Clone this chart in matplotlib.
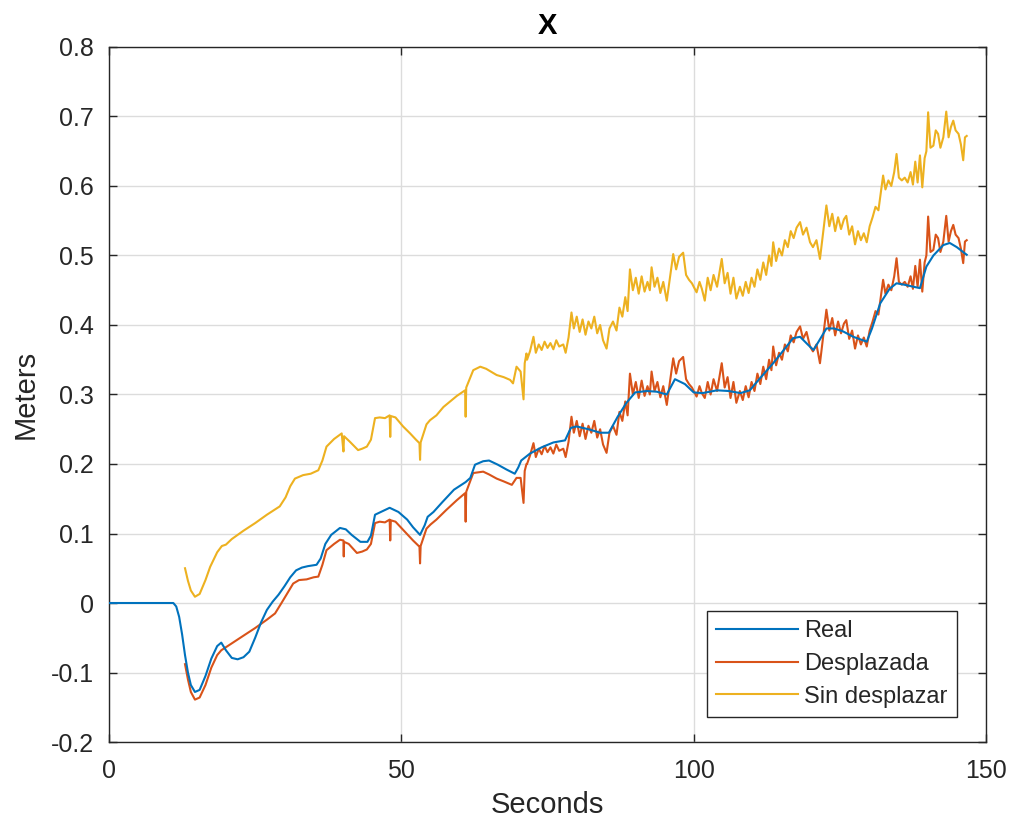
import matplotlib
matplotlib.use("Agg")
import matplotlib.pyplot as plt

plt.rcParams['font.family'] = ['Liberation Sans', 'DejaVu Sans']

# ---- Real trajectory (smooth) ----
real_t = [0, 11, 11.5, 12, 12.5, 13, 13.5, 14, 14.7, 15.5, 16.5, 17.5, 18.5, 19.2, 20, 21,
          22, 23, 24, 25, 26, 27, 28, 29, 30, 31, 32, 33, 34, 35.5, 36.2, 37, 38, 39.5,
          40.5, 41.5, 43, 44.2, 44.8, 45.5, 46.5, 48, 49.5, 51, 52, 53.2, 54, 54.5, 55.5,
          57, 59, 61, 61.8, 62.6, 64, 65, 66.5, 68, 69.4, 70, 70.5, 72, 74, 76, 78, 79,
          80, 82, 84, 85.5, 87, 88.5, 90, 92, 93.7, 95.4, 96.8, 98.5, 100, 101.5, 104,
          106, 108, 109.6, 111, 113.6, 115.5, 117, 118.2, 119.5, 120.5, 121.5, 122.7, 124,
          125.5, 127.3, 129.6, 130.5, 131.9, 133.5, 134.7, 136, 137.6, 138.7, 139.8, 141,
          142.7, 143.8, 145, 146.7]
real_x = [0, 0, -0.005, -0.02, -0.045, -0.075, -0.10, -0.118, -0.128, -0.125, -0.105, -0.08,
          -0.062, -0.057, -0.068, -0.079, -0.081, -0.078, -0.07, -0.05, -0.028, -0.01, 0.002,
          0.012, 0.024, 0.037, 0.047, 0.051, 0.053, 0.055, 0.064, 0.085, 0.098, 0.108, 0.106,
          0.098, 0.088, 0.088, 0.097, 0.127, 0.131, 0.137, 0.131, 0.12, 0.109, 0.098, 0.112,
          0.124, 0.131, 0.145, 0.163, 0.174, 0.18, 0.199, 0.204, 0.205, 0.199, 0.192, 0.186,
          0.195, 0.205, 0.215, 0.224, 0.231, 0.234, 0.252, 0.254, 0.25, 0.245, 0.245, 0.268,
          0.288, 0.303, 0.305, 0.304, 0.3, 0.322, 0.315, 0.303, 0.302, 0.306, 0.305, 0.302,
          0.306, 0.32, 0.345, 0.365, 0.381, 0.383, 0.372, 0.364, 0.378, 0.395, 0.395, 0.391,
          0.383, 0.376, 0.395, 0.431, 0.452, 0.46, 0.458, 0.455, 0.453, 0.484, 0.5, 0.515,
          0.518, 0.512, 0.501]

# ---- Shifted estimate (Desplazada) ----
desp_t = [13, 13.5, 14, 14.7, 15.5, 16.5, 17.5, 18.5, 19.2, 21, 23, 25, 27, 28.4, 29.5,
          30.5, 31.5, 32.5, 33.8, 35, 35.8, 36.5, 37.2, 38.5, 39.5, 40.1, 40.15, 40.2, 41,
          42.4, 43.3, 44.1, 44.8, 45.5, 46.3, 47.2, 48, 48.1, 48.2, 49, 50, 50.9, 52, 53.1,
          53.2, 53.3, 54.3, 55, 56, 57.7, 59.5, 60.9, 61.0, 61.1, 62.3, 63.1, 64, 65, 66.3,
          67.5, 68.9, 69.7, 70.4, 70.9, 71.1, 71.4,
          71.5, 72.0, 72.6, 73.0, 73.5, 74.0, 74.5, 75.0, 75.5, 76.0, 76.5, 77.0, 77.7, 78.1,
          78.6, 79.1, 79.5, 80.0, 80.5, 81.0, 81.5, 82.0, 82.5, 83.0, 83.5, 84.0, 84.5, 85.1,
          85.6, 86.2, 86.8, 87.3, 87.8, 88.3, 88.7, 89.1, 89.6, 90.1, 90.6, 91.1, 91.6, 92.1,
          92.5, 92.8, 93.3, 93.8, 94.3, 94.8, 95.4, 95.9, 96.5, 97.0, 97.5, 98.2, 98.7, 99.2,
          99.7, 100.5, 101.0, 101.4, 101.9, 102.4, 102.9, 103.4, 104.0, 104.5, 104.8, 105.3,
          105.8, 106.3, 106.8, 107.3, 107.9, 108.4, 108.9, 109.4, 109.9, 110.4, 110.9, 111.4,
          111.9, 112.4, 112.9, 113.3, 113.6, 114.1, 114.6, 115.1, 115.6, 116.1, 116.6, 117.1,
          117.6, 118.2, 118.7, 119.3, 119.9, 120.4, 121.0, 121.6, 122.1, 122.7, 123.2, 123.7,
          124.2, 124.7, 125.2, 125.7, 126.1, 126.6, 127.1, 127.6, 128.1, 128.6, 129.1, 129.6,
          130.1, 130.6, 131.1, 131.6, 132.0, 132.4, 132.8, 133.3, 133.8, 134.3, 134.7, 135.1,
          135.6, 136.1, 136.6, 137.1, 137.5, 137.9, 138.3, 138.7, 139.1, 139.5, 139.8, 140.1,
          140.5, 141.0, 141.4, 141.8, 142.2, 142.7, 143.2, 143.6, 144.0, 144.4, 144.8, 145.3,
          145.7, 146.1, 146.4, 146.7]
desp_x = [-0.088, -0.11, -0.128, -0.139, -0.136, -0.118, -0.093, -0.075, -0.068, -0.058,
          -0.047, -0.036, -0.024, -0.015, 0.0, 0.014, 0.028, 0.033, 0.034, 0.037, 0.038, 0.055,
          0.076, 0.085, 0.091, 0.09, 0.067, 0.088, 0.085, 0.072, 0.074, 0.077, 0.085, 0.115,
          0.117, 0.116, 0.12, 0.09, 0.119, 0.117, 0.108, 0.1, 0.09, 0.081, 0.057, 0.082, 0.107,
          0.113, 0.12, 0.134, 0.148, 0.158, 0.117, 0.16, 0.187, 0.188, 0.189, 0.185, 0.179,
          0.175, 0.17, 0.18, 0.18, 0.144, 0.19, 0.2,
          0.200, 0.212, 0.230, 0.210, 0.222, 0.214, 0.226, 0.217, 0.224, 0.215, 0.228, 0.219,
          0.222, 0.210, 0.232, 0.268, 0.245, 0.262, 0.240, 0.258, 0.236, 0.255, 0.245, 0.262,
          0.238, 0.250, 0.228, 0.216, 0.245, 0.255, 0.242, 0.275, 0.262, 0.290, 0.270, 0.330,
          0.300, 0.318, 0.295, 0.320, 0.298, 0.312, 0.300, 0.333, 0.305, 0.318, 0.296, 0.312,
          0.285, 0.315, 0.352, 0.330, 0.348, 0.354, 0.322, 0.315, 0.310, 0.297, 0.312, 0.302,
          0.295, 0.318, 0.300, 0.322, 0.305, 0.330, 0.345, 0.310, 0.325, 0.295, 0.318, 0.288,
          0.305, 0.292, 0.312, 0.296, 0.318, 0.305, 0.330, 0.315, 0.340, 0.322, 0.350, 0.335,
          0.369, 0.342, 0.360, 0.350, 0.372, 0.362, 0.385, 0.375, 0.390, 0.398, 0.380, 0.390,
          0.369, 0.362, 0.372, 0.345, 0.380, 0.422, 0.392, 0.410, 0.385, 0.405, 0.388, 0.402,
          0.407, 0.380, 0.392, 0.366, 0.385, 0.372, 0.382, 0.369, 0.392, 0.405, 0.420, 0.415,
          0.440, 0.465, 0.445, 0.458, 0.450, 0.470, 0.496, 0.462, 0.458, 0.462, 0.455, 0.470,
          0.452, 0.485, 0.455, 0.494, 0.448, 0.490, 0.500, 0.556, 0.505, 0.508, 0.530, 0.525,
          0.505, 0.520, 0.557, 0.520, 0.535, 0.544, 0.530, 0.525, 0.510, 0.489, 0.520, 0.522]

# ---- Unshifted estimate (Sin desplazar) ----
sin_t = [13, 13.5, 14, 14.7, 15.5, 16.5, 17.3, 18.5, 19.3, 20, 21, 23, 25, 27, 29.2, 30.2,
         31, 31.8, 33.2, 34.5, 35.8, 36.5, 37.2, 38.5, 39.8, 40.1, 40.2, 41.2, 42.6, 43.3,
         44.1, 44.8, 45.5, 46.3, 47.2, 48, 48.1, 48.2, 49, 50.3, 51.5, 52.5, 53.1, 53.2, 53.3,
         54.3, 54.9, 56, 57.2, 59.5, 60.9, 61.0, 61.1, 62.3, 63.5, 64.5, 65.5, 66.3, 67.5,
         68.6, 69.1, 69.7, 70.4, 70.9, 71.1, 71.4,
         71.5, 72.0, 72.6, 73.0, 73.5, 74.0, 74.5, 75.0, 75.5, 76.0, 76.5, 77.0, 77.7, 78.1,
         78.6, 79.1, 79.5, 80.0, 80.5, 81.0, 81.5, 82.0, 82.5, 83.0, 83.5, 84.0, 84.5, 85.1,
         85.6, 86.2, 86.8, 87.3, 87.8, 88.3, 88.7, 89.1, 89.6, 90.1, 90.6, 91.1, 91.6, 92.1,
         92.5, 92.8, 93.3, 93.8, 94.3, 94.8, 95.4, 95.9, 96.5, 97.0, 97.5, 98.2, 98.7, 99.2,
         99.7, 100.5, 101.0, 101.4, 101.9, 102.4, 102.9, 103.4, 104.0, 104.5, 104.8, 105.3,
         105.8, 106.3, 106.8, 107.3, 107.9, 108.4, 108.9, 109.4, 109.9, 110.4, 110.9, 111.4,
         111.9, 112.4, 112.9, 113.3, 113.6, 114.1, 114.6, 115.1, 115.6, 116.1, 116.6, 117.1,
         117.6, 118.2, 118.7, 119.3, 119.9, 120.4, 121.0, 121.6, 122.1, 122.7, 123.2, 123.7,
         124.2, 124.7, 125.2, 125.7, 126.1, 126.6, 127.1, 127.6, 128.1, 128.6, 129.1, 129.6,
         130.1, 130.6, 131.1, 131.6, 132.0, 132.4, 132.8, 133.3, 133.8, 134.3, 134.7, 135.1,
         135.6, 136.1, 136.6, 137.1, 137.5, 137.9, 138.3, 138.7, 139.1, 139.5, 139.8, 140.1,
         140.5, 141.0, 141.4, 141.8, 142.2, 142.7, 143.2, 143.6, 144.0, 144.4, 144.8, 145.3,
         145.7, 146.1, 146.4, 146.7]
sin_x = [0.050, 0.032, 0.018, 0.009, 0.013, 0.033, 0.052, 0.073, 0.082, 0.084, 0.092, 0.104,
         0.115, 0.127, 0.139, 0.152, 0.168, 0.179, 0.184, 0.186, 0.191, 0.205, 0.225, 0.236,
         0.244, 0.218, 0.24, 0.232, 0.220, 0.222, 0.225, 0.235, 0.266, 0.267, 0.266, 0.270,
         0.239, 0.269, 0.267, 0.254, 0.244, 0.235, 0.230, 0.206, 0.231, 0.257, 0.263, 0.270,
         0.282, 0.298, 0.306, 0.268, 0.310, 0.335, 0.340, 0.337, 0.332, 0.328, 0.325, 0.321,
         0.316, 0.340, 0.333, 0.293, 0.345, 0.359,
         0.350, 0.362, 0.383, 0.360, 0.372, 0.364, 0.376, 0.367, 0.374, 0.365, 0.378, 0.369,
         0.372, 0.360, 0.382, 0.418, 0.395, 0.412, 0.390, 0.408, 0.386, 0.405, 0.395, 0.412,
         0.388, 0.400, 0.378, 0.366, 0.395, 0.405, 0.392, 0.425, 0.412, 0.440, 0.420, 0.480,
         0.450, 0.468, 0.445, 0.470, 0.448, 0.462, 0.450, 0.483, 0.455, 0.468, 0.446, 0.462,
         0.435, 0.465, 0.502, 0.480, 0.498, 0.504, 0.472, 0.465, 0.460, 0.447, 0.462, 0.452,
         0.435, 0.468, 0.450, 0.472, 0.455, 0.480, 0.495, 0.460, 0.475, 0.445, 0.468, 0.438,
         0.455, 0.442, 0.462, 0.446, 0.468, 0.455, 0.480, 0.465, 0.490, 0.472, 0.500, 0.485,
         0.519, 0.492, 0.510, 0.500, 0.522, 0.512, 0.535, 0.525, 0.540, 0.548, 0.530, 0.540,
         0.519, 0.512, 0.522, 0.495, 0.530, 0.572, 0.542, 0.560, 0.535, 0.555, 0.538, 0.552,
         0.557, 0.530, 0.542, 0.516, 0.535, 0.522, 0.532, 0.519, 0.542, 0.555, 0.570, 0.565,
         0.590, 0.615, 0.595, 0.608, 0.600, 0.620, 0.646, 0.612, 0.608, 0.612, 0.605, 0.620,
         0.602, 0.635, 0.605, 0.644, 0.598, 0.640, 0.650, 0.706, 0.655, 0.658, 0.680, 0.675,
         0.655, 0.670, 0.707, 0.670, 0.685, 0.694, 0.680, 0.675, 0.660, 0.637, 0.670, 0.672]

series_labels = ['Real', 'Desplazada', 'Sin desplazar']
x_ticks = [0, 50, 100, 150]
y_ticks = [-0.2, -0.1, 0, 0.1, 0.2, 0.3, 0.4, 0.5, 0.6, 0.7, 0.8]
y_tick_labels = ['-0.2', '-0.1', '0', '0.1', '0.2', '0.3', '0.4', '0.5', '0.6', '0.7', '0.8']

AX_GRAY = '#262626'

fig = plt.figure(figsize=(10.14, 8.21), dpi=100)
ax = fig.add_axes([0.1075, 0.0962, 0.8649, 0.8466])

ax.plot(real_t, real_x, color='#0072BD', lw=1.5, label=series_labels[0], zorder=3)
ax.plot(desp_t, desp_x, color='#D95319', lw=1.5, label=series_labels[1], zorder=2)
ax.plot(sin_t, sin_x, color='#EDB120', lw=1.5, label=series_labels[2], zorder=2)

ax.set_xlim(0, 150)
ax.set_ylim(-0.2, 0.8)
ax.set_xticks(x_ticks)
ax.set_xticklabels([str(v) for v in x_ticks])
ax.set_yticks(y_ticks)
ax.set_yticklabels(y_tick_labels)

ax.grid(True, color='#dcdcdc', lw=1.0)
ax.set_axisbelow(True)
for s in ax.spines.values():
    s.set_color(AX_GRAY)
    s.set_linewidth(1.0)
ax.tick_params(direction='in', length=5.8, width=1.0, color=AX_GRAY,
               labelcolor=AX_GRAY, labelsize=18, top=True, right=True)
ax.tick_params(axis='y', pad=11)
ax.tick_params(axis='x', pad=12)

ax.set_xlabel('Seconds', fontsize=21, color=AX_GRAY, labelpad=6)
ax.set_ylabel('Meters', fontsize=21, color=AX_GRAY, labelpad=8)
ax.set_title('X', fontsize=21, fontweight='bold', color='black', pad=9)

leg = ax.legend(loc='lower right', bbox_to_anchor=(0.967, 0.036), borderaxespad=0,
                fontsize=17, handlelength=3.45, handletextpad=0.27, borderpad=0.4,
                labelspacing=0.45, fancybox=False, framealpha=1)
leg.get_frame().set_edgecolor(AX_GRAY)
leg.get_frame().set_linewidth(1.0)
for t in leg.get_texts():
    t.set_color(AX_GRAY)

fig.savefig('out.png', dpi=100)
